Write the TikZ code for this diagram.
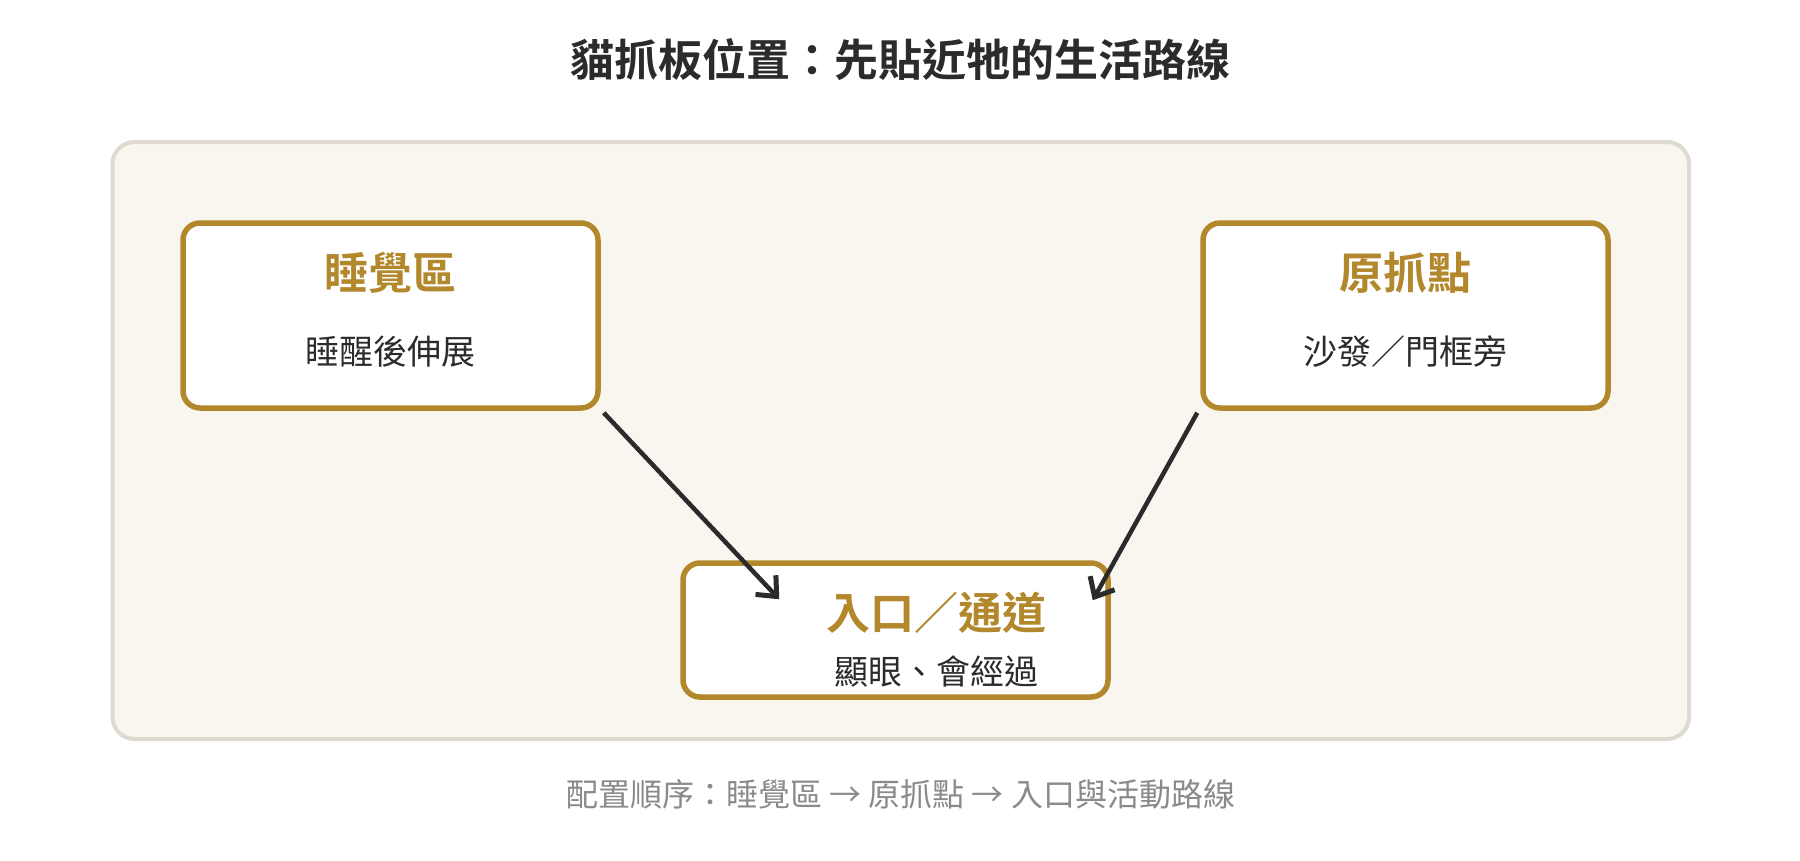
\documentclass[tikz,border=0pt]{standalone}
\usepackage{fontspec}
\setmainfont{Noto Sans CJK TC}[BoldFont={Noto Sans CJK TC Bold}]
\usetikzlibrary{arrows.meta,calc}
\definecolor{gold}{HTML}{B3882C}
\definecolor{panelfill}{HTML}{F9F6EF}
\definecolor{panelline}{HTML}{DEDAD0}
\definecolor{ink}{HTML}{2B2B2B}
\definecolor{footgray}{HTML}{8A8A8A}
\tikzset{
  panel/.style={draw=panelline, fill=panelfill, line width=4pt, rounded corners=22pt, inner sep=0pt},
  card/.style={draw=gold, fill=white, line width=5.5pt, rounded corners=17pt, inner sep=0pt},
  cardtitle/.style={text=gold, font=\fontsize{44}{52}\selectfont\bfseries, inner sep=0pt},
  cardsub/.style={text=ink, font=\fontsize{34}{40}\selectfont, inner sep=0pt},
  flow/.style={draw=ink, line width=4.5pt, -{Straight Barb[length=16pt,width=28pt,line width=5pt]}},
}
\begin{document}
\begin{tikzpicture}[x=1pt,y=-1pt]
\useasboundingbox (0,0) rectangle (1800,860);
\fill[white] (0,0) rectangle (1800,860);
\node[text=ink, font=\fontsize{44}{52}\selectfont\bfseries, inner sep=0pt] (title) at (900.7,60) {貓抓板位置：先貼近牠的生活路線};
\node[panel, minimum width=1576.5pt, minimum height=597pt] (panel) at (900.75,440.5) {};
\node[card, minimum width=415pt, minimum height=185pt] (sleep) at (390.5,315.5) {};
\node[card, minimum width=405pt, minimum height=185pt] (scratch) at (1405.5,315.5) {};
\node[card, minimum width=425pt, minimum height=134pt] (entry) at (895.5,630) {};
\node[cardtitle] (sleept) at (390.5,273) {睡覺區};
\node[cardsub] (sleeps) at (390.5,352) {睡醒後伸展};
\node[cardtitle] (scratcht) at (1405.5,273) {原抓點};
\node[cardsub] (scratchs) at (1405.5,352) {沙發／門框旁};
\node[cardtitle] (entryt) at (936,613) {入口／通道};
\node[cardsub] (entrys) at (936,672) {顯眼、會經過};
\coordinate (a1s) at ($(sleep.south east)+(3,2)$);
\coordinate (a1e) at ($(entry.north west)+(99,39)$);
\coordinate (a2s) at ($(scratch.south west)+(-3,2)$);
\coordinate (a2e) at ($(entry.north east)+(-18,40)$);
\draw[flow] (a1s) -- (a1e);
\draw[flow] (a2s) -- (a2e);
\node[text=footgray, font=\fontsize{32}{38}\selectfont, inner sep=0pt] (foot) at (900.7,794) {配置順序：睡覺區 → 原抓點 → 入口與活動路線};
\end{tikzpicture}
\end{document}
